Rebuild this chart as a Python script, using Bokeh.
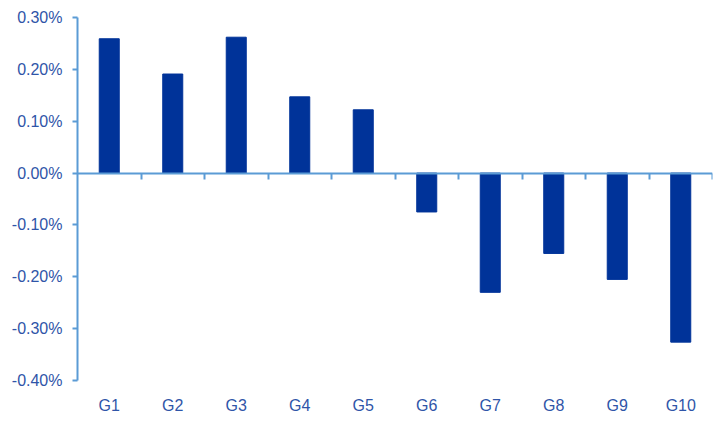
from bokeh.plotting import figure
from bokeh.models import Range1d, FixedTicker, LinearAxis, NumeralTickFormatter, ColumnDataSource
from bokeh.embed import file_html
from bokeh.resources import INLINE

categories = ["G1", "G2", "G3", "G4", "G5", "G6", "G7", "G8", "G9", "G10"]
values = [0.00259, 0.00191, 0.00262, 0.00147, 0.00122, -0.00075, -0.00230, -0.00155, -0.00205, -0.00326]
y_ticks = [-0.004, -0.003, -0.002, -0.001, 0.0, 0.001, 0.002, 0.003]

BAR = "#003399"
AXIS = "#5B9BD5"
TXT = "#2F55A8"
FONT = "Liberation Sans"

n = len(categories)
centers = [i + 0.5 for i in range(n)]
src = ColumnDataSource(dict(x=centers, top=values))

p = figure(width=717, height=426, output_backend="svg", toolbar_location=None,
           x_range=Range1d(0, n), y_range=Range1d(y_ticks[0], y_ticks[-1]),
           min_border_left=77, min_border_right=5, min_border_top=17, min_border_bottom=46)
p.outline_line_color = None
p.grid.grid_line_color = None
p.background_fill_color = "white"
p.border_fill_color = "white"

p.vbar(x="x", top="top", bottom=0, width=0.315, source=src, fill_color=BAR, line_color=BAR)

# y axis
ya = p.yaxis[0]
ya.ticker = FixedTicker(ticks=y_ticks)
ya.formatter = NumeralTickFormatter(format="0.00%")
ya.axis_line_color = AXIS
ya.axis_line_width = 2
ya.major_tick_line_color = AXIS
ya.major_tick_line_width = 2
ya.major_tick_out = 5
ya.major_tick_in = 0
ya.minor_tick_line_color = None
ya.major_label_text_color = TXT
ya.major_label_text_font = FONT
ya.major_label_text_font_size = "16px"
ya.major_label_standoff = 10

# x axis: category labels at bottom
xa = p.xaxis[0]
xa.ticker = FixedTicker(ticks=centers)
xa.major_label_overrides = {c: lab for c, lab in zip(centers, categories)}
xa.axis_line_color = None
xa.major_tick_line_color = None
xa.minor_tick_line_color = None
xa.major_label_text_color = TXT
xa.major_label_text_font = FONT
xa.major_label_text_font_size = "16px"
xa.major_label_standoff = 10

# zero line with boundary ticks (pointing downward)
za = LinearAxis(fixed_location=0, ticker=FixedTicker(ticks=list(range(1, n + 1))))
za.axis_line_color = AXIS
za.axis_line_width = 2
za.major_tick_line_color = AXIS
za.major_tick_line_width = 2
za.major_tick_out = 0
za.major_tick_in = 6
za.minor_tick_line_color = None
za.major_label_text_font_size = "0px"
za.major_label_text_alpha = 0
p.add_layout(za, "above")

open("out.html", "w").write(file_html(p, INLINE))
